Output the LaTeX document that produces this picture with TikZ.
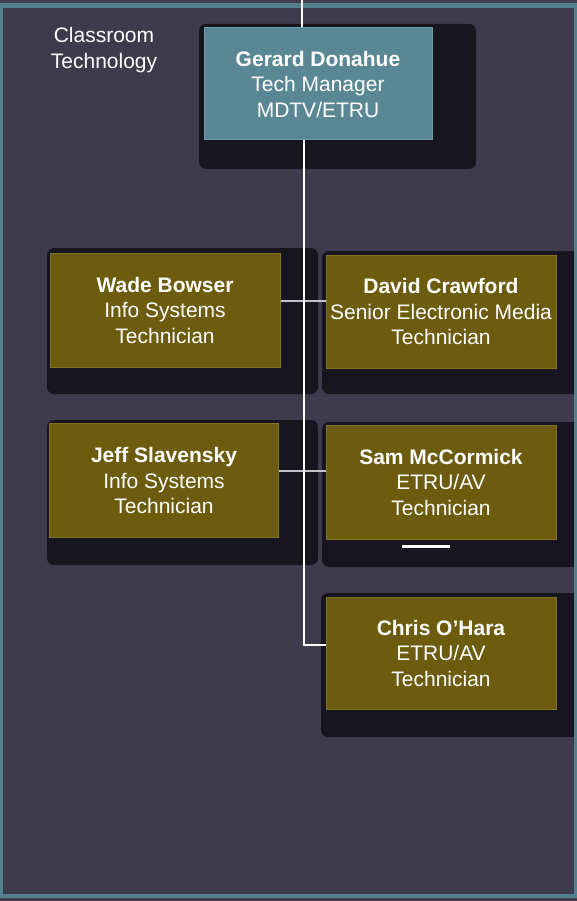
\documentclass[tikz,border=0pt]{standalone}
\usepackage{fontspec}
\setmainfont{Liberation Sans}
\definecolor{bgcol}{HTML}{3E3B4C}
\definecolor{framecol}{HTML}{52808C}
\definecolor{tealbox}{HTML}{5A8794}
\definecolor{tealedge}{HTML}{6C9CA8}
\definecolor{olivebox}{HTML}{6D5B0E}
\definecolor{oliveedge}{HTML}{857122}
\definecolor{shadowcol}{HTML}{17151F}
\definecolor{hconncol}{HTML}{C4C4C8}
\tikzset{
  boxtext/.style={text=white, align=center, inner sep=0pt,
    font=\fontsize{21}{25.5}\selectfont},
  mgrbox/.style={boxtext, fill=tealbox, draw=tealedge, line width=1pt},
  staffbox/.style={boxtext, fill=olivebox, draw=oliveedge, line width=1pt},
  shadowbox/.style={fill=shadowcol, rounded corners=7pt},
  trunk/.style={draw=white, line width=2pt},
  branch/.style={draw=hconncol, line width=2pt},
}
\begin{document}
\begin{tikzpicture}[x=1pt,y=-1pt]
\useasboundingbox (0,0) rectangle (577,901);
\fill[bgcol] (0,0) rectangle (577,901);
% shadows
\fill[shadowbox] (199,24) rectangle (476,169);
\fill[shadowbox] (47,248) rectangle (318,394);
\fill[shadowbox] (322,251) rectangle (595,394);
\fill[shadowbox] (47,420) rectangle (318,565);
\fill[shadowbox] (322,422) rectangle (595,567);
\fill[shadowbox] (321,593) rectangle (595,737);
% frame
\fill[framecol] (0,3) rectangle (577,8);
\fill[framecol] (0,3) rectangle (3,898);
\fill[framecol] (574,3) rectangle (577,898);
\fill[framecol] (0,894) rectangle (577,898);
% title
\node[boxtext] (title) at (104,50) {Classroom\\Technology};
% boxes
\node[mgrbox, minimum width=228, minimum height=112] (gerard) at (318,84)
  {\textbf{Gerard Donahue}\\Tech Manager\\MDTV/ETRU};
\node[staffbox, minimum width=230, minimum height=114] (wade) at (165,310)
  {\textbf{Wade Bowser}\\Info Systems\\Technician};
\node[staffbox, minimum width=230, minimum height=113] (david) at (441,311.5)
  {\textbf{David Crawford}\\Senior Electronic Media\\Technician};
\node[staffbox, minimum width=229, minimum height=114] (jeff) at (164,480.5)
  {\textbf{Jeff Slavensky}\\Info Systems\\Technician};
\node[staffbox, minimum width=230, minimum height=114] (sam) at (441,482)
  {\textbf{Sam McCormick}\\ETRU/AV\\Technician};
\node[staffbox, minimum width=230, minimum height=112] (chris) at (441,653)
  {\textbf{Chris O’Hara}\\ETRU/AV\\Technician};
% connectors
\coordinate (topend) at (302,0);
\coordinate (elbow) at (304,645);
\coordinate (markA) at (402,546.5);
\coordinate (markB) at (450,546.5);
\draw[trunk] (topend) -- (gerard.north -| topend);
\draw[branch] (wade.east |- {(0,301)}) -- (david.west |- {(0,301)});
\draw[branch] (jeff.east |- {(0,471)}) -- (sam.west |- {(0,471)});
\draw[trunk, line join=miter] (gerard.south -| elbow) -- (elbow) -- (chris.west |- elbow);
\draw[draw=white, line width=2.5pt] (markA) -- (markB);
\end{tikzpicture}
\end{document}
